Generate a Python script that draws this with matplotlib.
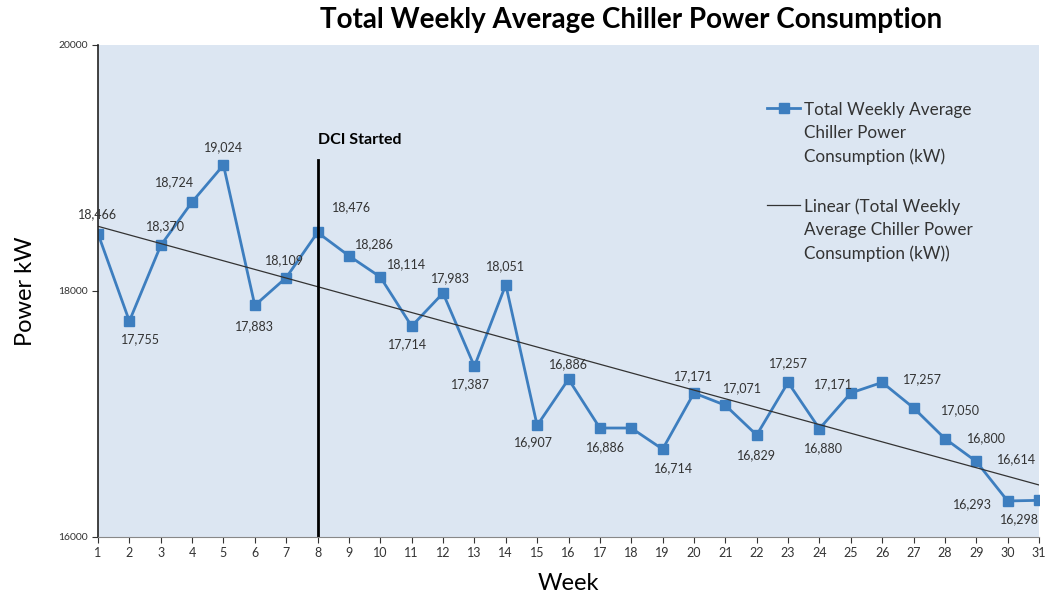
import numpy as np
import matplotlib.pyplot as plt

plt.rcParams['font.family'] = ['Lato', 'DejaVu Sans']

# Weekly values
weeks = list(range(1, 32))
power = [18466, 17755, 18370, 18724, 19024, 17883, 18109, 18476, 18286, 18114,
         17714, 17983, 17387, 18051, 16907, 17283, 16886, 16886, 16714, 17171,
         17071, 16829, 17257, 16880, 17171, 17257, 17050, 16800, 16614, 16293,
         16298]
# data label text as printed on the chart (None = no label)
point_labels = ["18,466", "17,755", "18,370", "18,724", "19,024", "17,883", "18,109",
                "18,476", "18,286", "18,114", "17,714", "17,983", "17,387", "18,051",
                "16,907", "16,886", "16,886", None, "16,714", "17,171", "17,071",
                "16,829", "17,257", "16,880", "17,171", "17,257", "17,050", "16,800",
                "16,614", "16,293", "16,298"]
# label offsets in pixels (dx, dy with y down)
label_offsets = [(0, -20), (11, 18), (5, -19), (-18, -20), (0, -18), (0, 21), (-2, -17),
                 (34, -25), (26, -12), (26, -13), (-4, 18), (7, -15), (-4, 18), (0, -19),
                 (-4, 17), (0, -15), (6, 19), (0, 0), (11, 19), (0, -17), (17, -17),
                 (0, 20), (0, -19), (4, 19), (-17, -9), (40, -3), (47, 2), (42, 0),
                 (40, -2), (-35, 3), (-20, 19)]

dci_week = 8

fig = plt.figure(figsize=(10.46, 5.99), dpi=100)
ax = fig.add_axes([98 / 1046, 1 - 537 / 599, 941 / 1046, 492 / 599])
ax.set_facecolor('#dce6f2')

blue = '#3d7ebf'
ax.plot(weeks, power, color=blue, lw=2, marker='s', ms=6.5,
        label='Total Weekly Average\nChiller Power\nConsumption (kW)')

coef = np.polyfit(weeks, power, 1)
ax.plot(weeks, np.polyval(coef, weeks), color='#333333', lw=0.9,
        label='Linear (Total Weekly\nAverage Chiller Power\nConsumption (kW))')

for w, p, lab, (dx, dy) in zip(weeks, power, point_labels, label_offsets):
    if lab is None:
        continue
    ax.annotate(lab, (w, p), xytext=(dx * 0.72, -dy * 0.72), textcoords='offset points',
                ha='center', va='center', fontsize=9, color='#333333')

ax.axvline(dci_week, ymin=0, ymax=0.766, color='black', lw=2)
ax.text(dci_week, 19230, 'DCI Started', fontsize=11.5, fontweight='bold', ha='left', va='center')

ax.set_xlim(1, 31)
ax.set_ylim(16000, 20000)
ax.set_xticks(weeks)
ax.set_yticks([16000, 18000, 20000])
ax.tick_params(axis='x', labelsize=9, length=4, direction='out', colors='#333333', pad=3)
ax.tick_params(axis='y', labelsize=7.5, length=4, direction='out', colors='#333333')
for s in ['top', 'right']:
    ax.spines[s].set_visible(False)
ax.spines['left'].set_color('#222222')
ax.spines['left'].set_linewidth(1.2)
ax.spines['bottom'].set_color('#888888')

ax.set_xlabel('Week', fontsize=17, labelpad=10)
ax.set_ylabel('Power kW', fontsize=17, labelpad=16)

leg = ax.legend(loc='upper left', bbox_to_anchor=(0.695, 0.915), frameon=False,
                fontsize=12.3, labelspacing=1.95, handlelength=1.9, handletextpad=0.25)
for t in leg.get_texts():
    t.set_color('#333333')
    t.set_linespacing(1.55)
# put the legend symbol next to the first text line, as Excel does
for col in leg._legend_handle_box.get_children():
    for row in col.get_children():
        row.align = 'top'

fig.text(0.603, 0.966, 'Total Weekly Average Chiller Power Consumption',
         fontsize=20, fontweight='bold', ha='center', va='center')

fig.savefig('out.png', dpi=100)
